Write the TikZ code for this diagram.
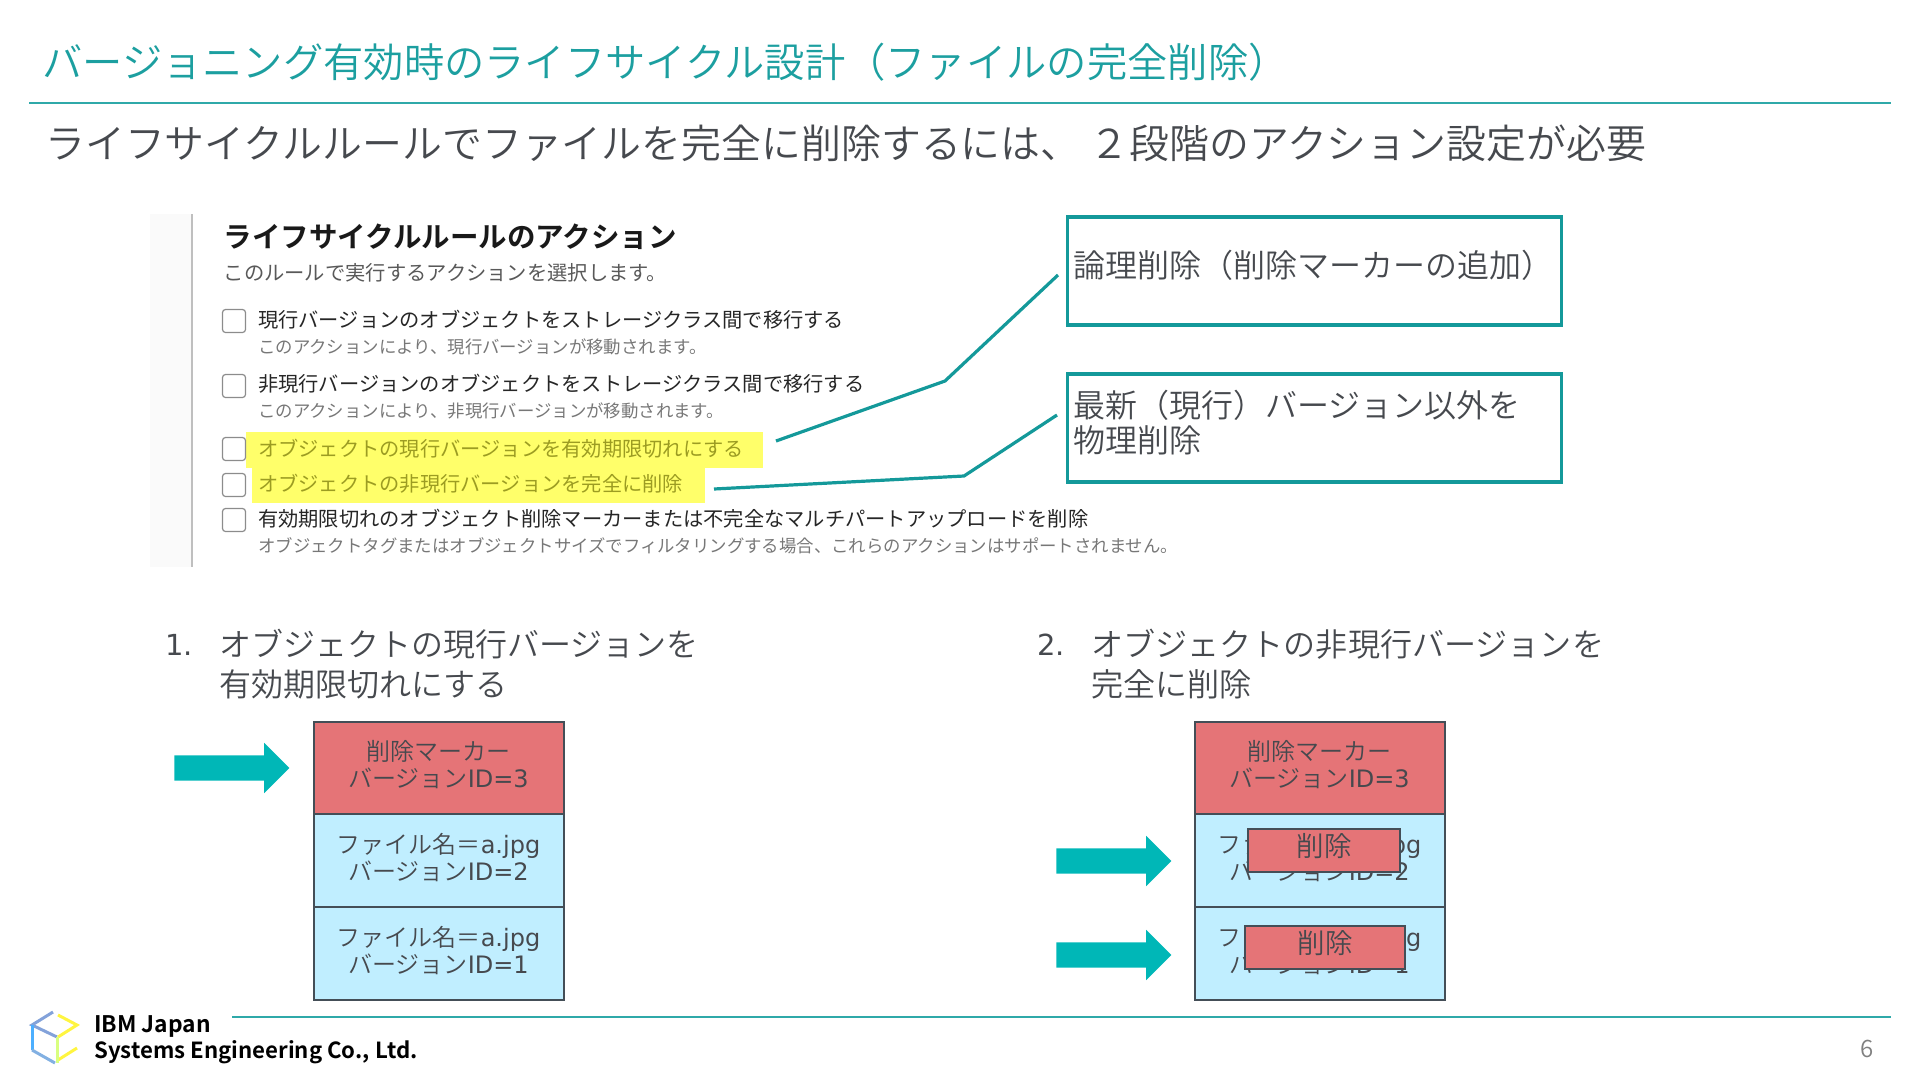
\documentclass[tikz,border=0pt]{standalone}
\usepackage{fontspec}
\setmainfont{Noto Sans CJK JP}[UprightFont=* DemiLight,BoldFont=* Bold]
\newfontfamily\shotfont{Noto Sans CJK JP}
\newfontfamily\latfont{DejaVu Sans}
\newfontfamily\logofont{Noto Sans CJK JP}[UprightFont=* Bold]
\usetikzlibrary{shapes.arrows}
\usetikzlibrary{positioning}

\definecolor{inkgray}{HTML}{46494E}
\definecolor{headteal}{HTML}{1C9FA0}
\definecolor{ruleteal}{HTML}{2FA9A9}
\definecolor{boxteal}{HTML}{14999A}
\definecolor{arrowteal}{HTML}{00B7B7}
\definecolor{cellred}{HTML}{E57477}
\definecolor{cellblue}{HTML}{C0EEFF}
\definecolor{cellline}{HTML}{444E57}
\definecolor{marker}{HTML}{FFFF6A}
\definecolor{markertext}{HTML}{9C9C22}
\definecolor{shotgray}{HTML}{777777}

\newcommand{\lat}[1]{{\latfont #1}}

\tikzset{
  txt/.style={inner sep=0pt,anchor=west,align=left,text=inkgray},
  shotline/.style={inner sep=0pt,anchor=west,text=black!85,font=\shotfont\fontsize{20.25}{24}\selectfont},
  shotnote/.style={inner sep=0pt,anchor=west,text=shotgray,font=\shotfont\fontsize{17.4}{20}\selectfont},
  shotmark/.style={inner sep=0pt,anchor=west,text=markertext,font=\shotfont\fontsize{20.25}{24}\selectfont},
  tick/.style={draw=black!45,line width=1.2pt,fill=white,rounded corners=3pt,minimum size=23pt,inner sep=0pt},
  cell/.style={draw=cellline,line width=2pt,outer sep=0pt,minimum width=250pt,minimum height=92.7pt,inner sep=0pt,
    align=center,text=inkgray,text depth=8pt,font=\fontsize{24}{27}\selectfont},
  cover/.style={draw=cellline,line width=1.2pt,fill=cellred,inner sep=0pt,text=inkgray,
    text height=20pt,text depth=8pt,font=\fontsize{27.5}{30}\selectfont},
  callbox/.style={draw=boxteal,line width=3.2pt,minimum width=494pt,minimum height=108pt,inner sep=0pt},
  callline/.style={draw=boxteal,line width=3.2pt},
  bigarrow/.style={single arrow,fill=arrowteal,inner xsep=0pt,inner ysep=12.5pt,minimum width=50pt,minimum height=115pt,
    single arrow head extend=12.5pt,single arrow head indent=0pt},
  logoline/.style={line width=3pt}
}

\begin{document}
\begin{tikzpicture}[x=1pt,y=-1pt]
  \useasboundingbox (0,0) rectangle (1920,1080);

  % heading
  \node[txt,text=headteal,font=\fontsize{40.3}{44}\selectfont] (title) at (42,62) {バージョニング有効時のライフサイクル設計（ファイルの完全削除）};
  \draw[ruleteal,line width=2pt] (29,103) -- (1891,103);
  \node[txt,font=\fontsize{39.9}{46}\selectfont] (lead) at (45,143) {ライフサイクルルールでファイルを完全に削除するには、 ２段階のアクション設定が必要};

  % console screenshot
  \fill[black!2] (150,214) rectangle (192,567);
  \draw[black!25,line width=2pt] (192,214) -- (192,567);
  \node[inner sep=0pt,anchor=west,text=black!90,font=\bfseries\fontsize{28.5}{32}\selectfont] (shothead) at (223.5,237) {ライフサイクルルールのアクション};
  \node[shotnote,text=black!65,font=\shotfont\fontsize{20.3}{22}\selectfont] (shotsub) at (223.5,273) {このルールで実行するアクションを選択します。};

  \fill[marker] (246,432) rectangle (763,468);
  \fill[marker] (252,468) rectangle (705,503);

  \foreach \y/\nm in {321/tickA,386/tickB,449/tickC,485/tickD,520/tickE}
    \node[tick] (\nm) at (234,\y) {};

  \node[shotline] (itemA) at (258,320) {現行バージョンのオブジェクトをストレージクラス間で移行する};
  \node[shotnote] (noteA) at (258,347) {このアクションにより、現行バージョンが移動されます。};
  \node[shotline] (itemB) at (258,384) {非現行バージョンのオブジェクトをストレージクラス間で移行する};
  \node[shotnote] (noteB) at (258,411) {このアクションにより、非現行バージョンが移動されます。};
  \node[shotmark] (itemC) at (258,449) {オブジェクトの現行バージョンを有効期限切れにする};
  \node[shotmark] (itemD) at (258,484) {オブジェクトの非現行バージョンを完全に削除};
  \node[shotline] (itemE) at (258,519) {有効期限切れのオブジェクト削除マーカーまたは不完全なマルチパートアップロードを削除};
  \node[shotnote] (noteE) at (258,546) {オブジェクトタグまたはオブジェクトサイズでフィルタリングする場合、これらのアクションはサポートされません。};

  % callouts
  \node[callbox] (logical) at (1314.5,271) {};
  \node[callbox] (physical) at (1314.5,428) {};
  \node[txt,font=\fontsize{32}{35}\selectfont] (logicaltxt) at (1073,265.5) {論理削除（削除マーカーの追加）};
  \node[txt,font=\fontsize{32}{35}\selectfont] (physicaltxt) at (1073,423) {最新（現行）バージョン以外を\\物理削除};
  \coordinate (fromC) at (776,441);
  \coordinate (bendC) at (945,381);
  \coordinate (toC) at (1058,275);
  \coordinate (fromD) at (714,489);
  \coordinate (bendD) at (964,476);
  \coordinate (toD) at (1057,415);
  \draw[callline] (fromC) -- (bendC) -- (toC);
  \draw[callline] (fromD) -- (bendD) -- (toD);

  % numbered steps
  \node[txt,font=\latfont\fontsize{29}{40}\selectfont] (numA) at (165,645) {1.};
  \node[txt,font=\fontsize{32}{40}\selectfont] (stepA) at (219,664) {オブジェクトの現行バージョンを\\有効期限切れにする};
  \node[txt,font=\latfont\fontsize{29}{40}\selectfont] (numB) at (1037,645) {2.};
  \node[txt,font=\fontsize{32.1}{40}\selectfont] (stepB) at (1091,664) {オブジェクトの非現行バージョンを\\完全に削除};

  % left stack
  \node[cell,fill=cellred] (cellA) at (438.5,768) {削除マーカー\\バージョン\lat{ID=3}};
  \node[cell,fill=cellblue,below=0pt of cellA] (cellB) {ファイル名＝\lat{a.jpg}\\バージョン\lat{ID=2}};
  \node[cell,fill=cellblue,below=0pt of cellB] (cellC) {ファイル名＝\lat{a.jpg}\\バージョン\lat{ID=1}};
  \node[bigarrow] (arrowA) at (225.5,768) {};

  % right stack
  \node[cell,fill=cellred] (cellD) at (1319.5,768) {削除マーカー\\バージョン\lat{ID=3}};
  \node[cell,fill=cellblue,below=0pt of cellD] (cellE) {ファイル名＝\lat{a.jpg}\\バージョン\lat{ID=2}};
  \node[cell,fill=cellblue,below=0pt of cellE] (cellF) {ファイル名＝\lat{a.jpg}\\バージョン\lat{ID=1}};
  \node[cover,minimum width=152pt,minimum height=43pt] (coverE) at (1324,850.5) {削除};
  \node[cover,minimum width=160pt,minimum height=43pt] (coverF) at (1325,947.5) {削除};
  \node[bigarrow] (arrowE) at (1107.5,861) {};
  \node[bigarrow] (arrowF) at (1107.5,955) {};

  % footer
  \draw[ruleteal,line width=2pt] (232,1017) -- (1891,1017);
  \draw[logoline,color=cyan!45!blue!50] (53,1012) -- (32,1025) -- (57,1037);
  \draw[logoline,color=blue!45!cyan!70] (32,1025) -- (32,1050);
  \draw[logoline,color=cyan!60!blue!50] (32,1050) -- (55,1063);
  \draw[logoline,color=yellow!75!white] (58,1015) -- (77,1025) -- (58,1037);
  \draw[logoline,color=yellow!75!white] (58,1060) -- (77,1048);
  \draw[logoline,color=green!30!yellow!50] (57,1037) -- (57,1063);
  \node[inner sep=0pt,anchor=base west,font=\logofont\fontsize{22.8}{26}\selectfont] (logoA) at (94,1032) {IBM Japan};
  \node[inner sep=0pt,anchor=base west,font=\logofont\fontsize{22.2}{26}\selectfont] (logoB) at (94,1058) {Systems Engineering Co., Ltd.};
  \node[inner sep=0pt,text=black!50,font=\fontsize{24}{26}\selectfont] (pagenum) at (1867,1049) {6};
\end{tikzpicture}
\end{document}
